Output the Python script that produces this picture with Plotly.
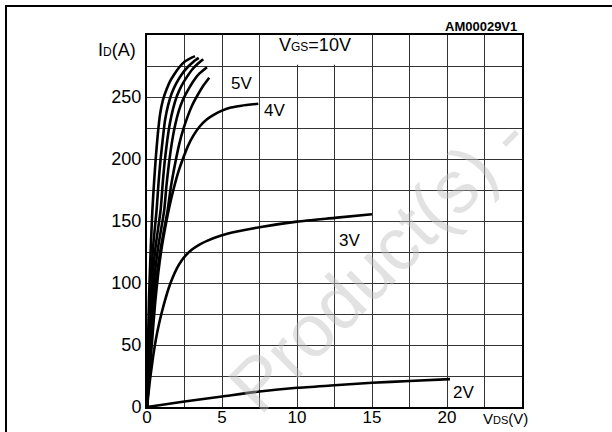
import plotly.graph_objects as go

# ---- data ----
vds_10v = [0, 0.06, 0.13, 0.24, 0.36, 0.47, 0.58, 0.72, 0.87, 1.05, 1.3, 1.55, 1.8, 2.15, 2.5, 2.85, 3.2]
id_10v = [0, 45, 86, 125, 159, 181, 200, 220, 236, 247, 256, 263, 268, 274, 278.5, 281, 283]

vds_8v = [0, 0.09, 0.2, 0.4, 0.64, 0.77, 0.9, 1.05, 1.2, 1.4, 1.65, 1.95, 2.3, 2.7, 3.1, 3.45]
id_8v = [0, 40, 86, 128, 159, 181, 199, 216, 231, 243, 253, 261, 268, 274, 278.5, 281.5]

vds_7v = [0, 0.12, 0.27, 0.55, 0.91, 1.05, 1.18, 1.35, 1.53, 1.75, 2.0, 2.3, 2.65, 3.0, 3.4, 3.75]
id_7v = [0, 38, 86, 127, 159, 181, 198, 215, 229, 241, 251, 259, 266, 272, 277, 280.5]

vds_6v = [0, 0.15, 0.35, 0.72, 1.15, 1.3, 1.47, 1.67, 1.87, 2.1, 2.4, 2.75, 3.1, 3.5, 4.0]
id_6v = [0, 36, 86, 127, 159, 179, 197, 214, 227, 238, 248, 256, 263, 269, 274]

vds_5v = [0, 0.2, 0.45, 0.9, 1.38, 1.6, 1.87, 2.15, 2.42, 2.7, 3.0, 3.35, 3.75, 4.15]
id_5v = [0, 36, 86, 127, 159, 178, 196, 212, 224, 234, 243, 251, 259, 265.5]

vds_4v = [0, 0.15, 0.35, 0.55, 0.75, 1.0, 1.25, 1.5, 1.8, 2.1, 2.42, 2.75, 3.1, 3.5, 4.0, 4.5, 5.0, 5.6, 6.3, 7.42]
id_4v = [0, 25, 55, 85, 108, 130, 147, 162, 177, 190, 201, 211, 219, 226, 232, 236, 239, 241.5, 243, 244.5]

vds_3v = [0, 0.2, 0.4, 0.6, 0.8, 1.0, 1.2, 1.45, 1.7, 2.0, 2.3, 2.6, 3.0, 3.5, 4.0, 5.0, 6.0, 7.5, 10, 12.5, 15]
id_3v = [0, 22, 40, 55, 67, 77, 86, 96, 104, 112, 118, 122.5, 127, 131, 134, 138.5, 141.5, 145, 149.5, 152.5, 155.5]

vds_2v = [0, 2.5, 5, 7.5, 10, 12.5, 15, 17.5, 20.2]
id_2v = [0, 4.5, 8.5, 12.5, 15.5, 17.5, 19.5, 21, 22.5]

x_tickvals = [0, 5, 10, 15, 20]
y_tickvals = [0, 50, 100, 150, 200, 250]

curve_labels = ["5V", "4V", "3V", "2V"]
label_x = [6.3, 8.5, 13.5, 21.1]
label_y = [261, 239.5, 134.5, 11.5]

FONT = "Liberation Sans"

# plot area in pixels (for paper-referenced texts)
L, R, T, B = 147, 522, 35, 407
def px(x):
    return (x - L) / (R - L)
def py(y):
    return (B - y) / (B - T)

fig = go.Figure()
series = [(vds_10v, id_10v), (vds_8v, id_8v), (vds_7v, id_7v), (vds_6v, id_6v),
          (vds_5v, id_5v), (vds_4v, id_4v), (vds_3v, id_3v), (vds_2v, id_2v)]
for xs, ys in series:
    fig.add_trace(go.Scatter(x=xs, y=ys, mode="lines",
                             line=dict(color="black", width=2.6, shape="spline", smoothing=0.6),
                             showlegend=False, hoverinfo="skip"))

grid_col = "#333333"
fig.update_xaxes(range=[0, 25], tickvals=x_tickvals, showgrid=True, gridcolor=grid_col, gridwidth=1,
                 minor=dict(dtick=2.5, tick0=0, showgrid=True, gridcolor=grid_col, gridwidth=1),
                 showline=True, linecolor="black", linewidth=2, mirror=True, zeroline=False,
                 automargin=False,
                 ticks="", tickfont=dict(family=FONT, size=17, color="black"), ticklabelstandoff=-6)
fig.update_yaxes(range=[0, 300], tickvals=y_tickvals, showgrid=True, gridcolor=grid_col, gridwidth=1,
                 minor=dict(dtick=25, tick0=0, showgrid=True, gridcolor=grid_col, gridwidth=1),
                 showline=True, linecolor="black", linewidth=2, mirror=True, zeroline=False,
                 automargin=False,
                 ticks="", tickfont=dict(family=FONT, size=18, color="black"), ticklabelstandoff=0)

shapes = [
    # white box behind the VGS label
    dict(type="rect", xref="x", yref="y", x0=7.57, x1=14.93, y0=276, y1=299.5,
         fillcolor="white", line=dict(width=0), layer="above"),
    # outer frame
    dict(type="rect", xref="paper", yref="paper", x0=px(6), x1=px(640), y0=py(460), y1=py(6),
         line=dict(color="black", width=2), fillcolor="rgba(0,0,0,0)", layer="below"),
]

annots = []
for t, x, y in zip(curve_labels, label_x, label_y):
    annots.append(dict(x=x, y=y, xref="x", yref="y", text=t, showarrow=False,
                       font=dict(family=FONT, size=17, color="black")))
annots.append(dict(x=11.2, y=292, xref="x", yref="y",
                   text="V<span style='font-size:12px'>GS</span>=10V", showarrow=False,
                   font=dict(family=FONT, size=18, color="black")))
annots.append(dict(x=px(116.5), y=py(50), xref="paper", yref="paper", xanchor="center", yanchor="middle",
                   text="I<span style='font-size:12px'>D</span>(A)", showarrow=False,
                   font=dict(family=FONT, size=18, color="black")))
annots.append(dict(x=px(505), y=py(418), xref="paper", yref="paper", xanchor="center", yanchor="middle",
                   text="V<span style='font-size:11px'>DS</span>(V)", showarrow=False,
                   font=dict(family=FONT, size=15, color="black")))
annots.append(dict(x=px(519), y=py(26), xref="paper", yref="paper", xanchor="right", yanchor="middle",
                   text="<b>AM00029V1</b>", showarrow=False,
                   font=dict(family=FONT, size=13, color="black")))
# watermark
annots.append(dict(x=px(378), y=py(262), xref="paper", yref="paper", xanchor="center", yanchor="middle",
                   text="Product(s) -", showarrow=False, textangle=-45,
                   font=dict(family=FONT, size=74, color="rgba(190,190,190,0.45)")))

fig.update_layout(
    width=612, height=432, autosize=False,
    margin=dict(l=L, r=612 - R, t=T, b=432 - B, pad=0),
    paper_bgcolor="white", plot_bgcolor="white",
    annotations=annots,
    shapes=shapes,
)

fig.write_html("out.html")
